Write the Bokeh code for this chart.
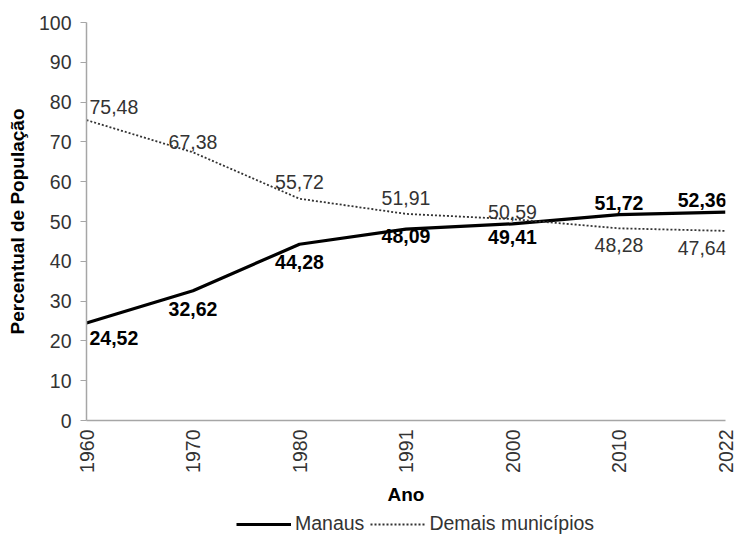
import math
from bokeh.plotting import figure
from bokeh.layouts import column
from bokeh.models import Range1d, Legend, LegendItem, ColumnDataSource, FixedTicker
from bokeh.core.properties import value
from bokeh.embed import file_html
from bokeh.resources import INLINE

years = ["1960", "1970", "1980", "1991", "2000", "2010", "2022"]
manaus = [24.52, 32.62, 44.28, 48.09, 49.41, 51.72, 52.36]
demais = [75.48, 67.38, 55.72, 51.91, 50.59, 48.28, 47.64]
manaus_labels = ["24,52", "32,62", "44,28", "48,09", "49,41", "51,72", "52,36"]
demais_labels = ["75,48", "67,38", "55,72", "51,91", "50,59", "48,28", "47,64"]
series_names = ["Manaus", "Demais municípios"]

# label placement (pixel offsets, styling only)
m_dx = [3, 0, 0, 0, 0, 0, 1]
m_dy = [15, 18, 18, 7, 13, -12, -12]
m_align = ["left", "center", "center", "center", "center", "center", "right"]
d_dx = [3, 0, 0, 0, 0, 0, 1]
d_dy = [-13, -10, -17, -16, -7, 17, 17]
d_align = ["left", "center", "center", "center", "center", "center", "right"]

FONT = "Liberation Sans"
FS = "19.5px"
M_STYLE = dict(line_color="black", line_width=3.2)
D_STYLE = dict(line_color="#333333", line_width=1.8, line_dash="2 2")
x = list(range(len(years)))

p = figure(output_backend="svg", toolbar_location=None,
           x_range=Range1d(0, len(years) - 1), y_range=Range1d(0, 100),
           min_border_left=86, min_border_right=11, min_border_top=22,
           min_border_bottom=0, frame_width=639, frame_height=398)
p.outline_line_color = None
p.grid.grid_line_color = None

p.line(x, manaus, **M_STYLE)
p.line(x, demais, **D_STYLE)

src_m = ColumnDataSource(dict(x=x, y=manaus, t=manaus_labels, dx=m_dx, dy=m_dy, al=m_align))
src_d = ColumnDataSource(dict(x=x, y=demais, t=demais_labels, dx=d_dx, dy=d_dy, al=d_align))
p.text(x="x", y="y", text="t", x_offset="dx", y_offset="dy", text_align="al",
       text_baseline="middle", text_font=value(FONT), text_font_size=FS,
       text_font_style="bold", text_color="black", source=src_m)
p.text(x="x", y="y", text="t", x_offset="dx", y_offset="dy", text_align="al",
       text_baseline="middle", text_font=value(FONT), text_font_size=FS,
       text_color="#333333", source=src_d)

xa = p.xaxis[0]
xa.ticker = FixedTicker(ticks=x)
xa.major_label_overrides = {i: y for i, y in enumerate(years)}
xa.major_label_orientation = math.pi / 2
xa.major_tick_line_color = None
xa.minor_tick_line_color = None
xa.major_tick_in = 0
xa.major_tick_out = 0
xa.axis_line_color = "#a6a6a6"
xa.axis_line_width = 1.5
xa.major_label_text_font = FONT
xa.major_label_text_font_size = FS
xa.major_label_text_color = "#333333"
xa.major_label_standoff = 9
xa.axis_label = "Ano"
xa.axis_label_text_font = FONT
xa.axis_label_text_font_size = "19px"
xa.axis_label_text_font_style = "bold"
xa.axis_label_text_color = "black"
xa.axis_label_standoff = 8

ya = p.yaxis[0]
ya.ticker = FixedTicker(ticks=list(range(0, 101, 10)))
ya.minor_tick_line_color = None
ya.axis_line_color = "#a6a6a6"
ya.axis_line_width = 1.5
ya.major_tick_line_color = "#a6a6a6"
ya.major_tick_in = 0
ya.major_tick_out = 6
ya.major_label_text_font = FONT
ya.major_label_text_font_size = FS
ya.major_label_text_color = "#333333"
ya.major_label_standoff = 9
ya.axis_label = "Percentual de População"
ya.axis_label_text_font = FONT
ya.axis_label_text_font_size = "19px"
ya.axis_label_text_font_style = "bold"
ya.axis_label_text_color = "black"
ya.axis_label_standoff = 8

# legend strip (placeholder renderers carry the line styles for the legend glyphs)
p2 = figure(width=736, height=32, output_backend="svg", toolbar_location=None,
            min_border=0, x_axis_type=None, y_axis_type=None,
            x_range=Range1d(0, 1), y_range=Range1d(0, 1))
p2.outline_line_color = None
p2.grid.grid_line_color = None
nan = float("nan")
lm = p2.line([nan], [nan], **M_STYLE)
ld = p2.line([nan], [nan], **D_STYLE)
legend = Legend(items=[LegendItem(label=series_names[0], renderers=[lm]),
                       LegendItem(label=series_names[1], renderers=[ld])],
                orientation="horizontal", location=(150, 4),
                border_line_color=None, background_fill_alpha=0,
                label_text_font=FONT, label_text_font_size=FS,
                label_text_color="#333333", glyph_width=55, label_standoff=4,
                spacing=6, padding=0, margin=0)
p2.add_layout(legend, "center")

layout = column(p, p2, spacing=0)
open("out.html", "w").write(file_html(layout, INLINE))
